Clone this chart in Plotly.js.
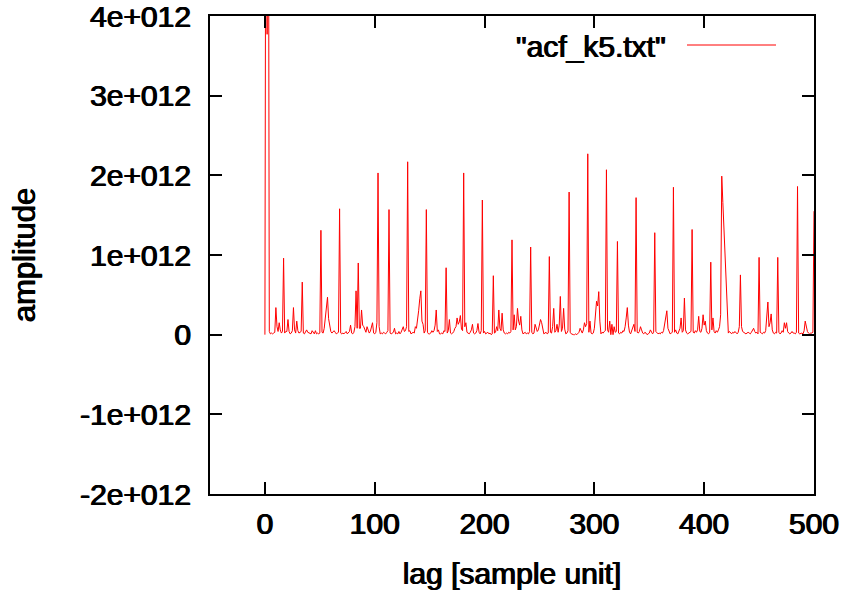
<!DOCTYPE html>
<html>
<head>
<meta charset="utf-8">
<script src="https://cdn.plot.ly/plotly-3.0.1.min.js"></script>
<style>
  html, body { margin: 0; padding: 0; background: #fff; }
  #plot { width: 850px; height: 593px; }
</style>
</head>
<body>
<div id="plot"></div>
<script>
// Autocorrelation of acf_k5.txt, one value per lag (lag 0 .. 500), in units of 1e12
const seriesName = '"acf_k5.txt"';
const firstLag = 0;
const lagStep = 1;
const amplitudeE12 = [
  0.00, 8.00, 3.77, 8.00, 0.04, 0.01, 0.02, 0.01, 0.02, 0.03,
  0.34, 0.10, 0.04, 0.15, 0.06, 0.02, 0.04, 0.96, 0.02, 0.04,
  0.04, 0.19, 0.04, 0.01, 0.02, 0.05, 0.34, 0.06, 0.02, 0.17,
  0.05, 0.02, 0.03, 0.04, 0.66, 0.02, 0.01, 0.03, 0.06, 0.03,
  0.02, 0.01, 0.01, 0.05, 0.02, 0.01, 0.05, 0.01, 0.02, 0.01,
  0.02, 1.31, 0.03, 0.02, 0.08, 0.21, 0.30, 0.47, 0.20, 0.08,
  0.04, 0.02, 0.03, 0.05, 0.03, 0.01, 0.02, 0.03, 1.58, 0.02,
  0.01, 0.02, 0.01, 0.02, 0.04, 0.01, 0.02, 0.04, 0.12, 0.02,
  0.01, 0.03, 0.10, 0.55, 0.08, 0.90, 0.08, 0.08, 0.31, 0.12,
  0.10, 0.06, 0.03, 0.10, 0.04, 0.02, 0.04, 0.09, 0.15, 0.02,
  0.01, 0.03, 0.15, 2.03, 0.10, 0.01, 0.02, 0.01, 0.03, 0.02,
  0.01, 0.03, 0.05, 1.57, 0.02, 0.01, 0.02, 0.03, 0.08, 0.01,
  0.02, 0.01, 0.04, 0.01, 0.03, 0.08, 0.10, 0.04, 0.05, 0.10,
  2.17, 0.04, 0.05, 0.01, 0.02, 0.03, 0.02, 0.10, 0.08, 0.17,
  0.30, 0.45, 0.55, 0.17, 0.13, 0.02, 0.05, 1.57, 0.03, 0.01,
  0.01, 0.02, 0.05, 0.03, 0.05, 0.12, 0.31, 0.04, 0.06, 0.01,
  0.01, 0.02, 0.01, 0.05, 0.04, 0.84, 0.02, 0.05, 0.19, 0.02,
  0.01, 0.02, 0.04, 0.08, 0.10, 0.21, 0.13, 0.16, 0.24, 0.07,
  0.05, 2.03, 0.10, 0.15, 0.03, 0.02, 0.01, 0.03, 0.06, 0.13,
  0.02, 0.01, 0.02, 0.05, 0.14, 0.03, 0.01, 0.05, 1.69, 0.02,
  0.04, 0.01, 0.02, 0.03, 0.01, 0.02, 0.00, 0.01, 0.74, 0.02,
  0.03, 0.10, 0.05, 0.31, 0.08, 0.05, 0.27, 0.06, 0.02, 0.01,
  0.02, 0.01, 0.03, 0.02, 0.04, 1.19, 0.06, 0.25, 0.06, 0.10,
  0.33, 0.17, 0.12, 0.23, 0.06, 0.01, 0.02, 0.03, 0.01, 0.02,
  0.01, 0.04, 1.10, 0.03, 0.01, 0.02, 0.13, 0.08, 0.04, 0.06,
  0.12, 0.19, 0.15, 0.05, 0.01, 0.02, 0.03, 0.01, 0.02, 0.98,
  0.03, 0.02, 0.10, 0.33, 0.03, 0.05, 0.13, 0.03, 0.12, 0.48,
  0.04, 0.08, 0.33, 0.07, 0.01, 0.02, 0.05, 1.79, 0.03, 0.01,
  0.00, 0.00, 0.00, 0.01, 0.00, 0.01, 0.03, 0.08, 0.05, 0.02,
  0.06, 0.15, 0.10, 0.14, 2.27, 0.03, 0.17, 0.02, 0.01, 0.02,
  0.08, 0.25, 0.42, 0.36, 0.54, 0.17, 0.01, 0.03, 0.02, 0.04,
  0.05, 2.07, 0.06, 0.03, 0.17, 0.00, 0.13, 0.00, 0.10, 0.03,
  0.04, 1.17, 0.02, 0.01, 0.03, 0.02, 0.05, 0.04, 0.10, 0.21,
  0.34, 0.12, 0.03, 0.01, 0.05, 0.08, 0.13, 0.04, 1.72, 0.03,
  0.02, 0.04, 0.10, 0.06, 0.02, 0.01, 0.03, 0.02, 0.00, 0.01,
  0.02, 0.06, 0.03, 0.01, 0.03, 1.28, 0.04, 0.02, 0.01, 0.02,
  0.01, 0.03, 0.02, 0.05, 0.13, 0.22, 0.30, 0.08, 0.03, 0.01,
  0.02, 0.03, 1.85, 0.03, 0.06, 0.02, 0.01, 0.04, 0.08, 0.21,
  0.03, 0.05, 0.46, 0.06, 0.02, 0.01, 0.02, 0.03, 0.04, 1.32,
  0.03, 0.02, 0.05, 0.03, 0.06, 0.23, 0.04, 0.03, 0.08, 0.25,
  0.12, 0.17, 0.05, 0.02, 0.01, 0.03, 0.91, 0.06, 0.21, 0.04,
  0.02, 0.05, 0.03, 0.06, 0.10, 0.25, 1.99, 1.66, 1.33, 1.00,
  0.66, 0.33, 0.02, 0.04, 0.02, 0.01, 0.03, 0.02, 0.04, 0.02,
  0.01, 0.03, 0.10, 0.75, 0.10, 0.04, 0.03, 0.02, 0.01, 0.02,
  0.03, 0.02, 0.01, 0.03, 0.05, 0.08, 0.04, 0.02, 0.03, 0.01,
  0.97, 0.03, 0.02, 0.01, 0.03, 0.02, 0.05, 0.22, 0.41, 0.10,
  0.15, 0.26, 0.06, 0.02, 0.01, 0.03, 0.02, 0.97, 0.03, 0.01,
  0.02, 0.05, 0.03, 0.15, 0.08, 0.15, 0.04, 0.02, 0.01, 0.02,
  0.04, 0.02, 0.02, 0.01, 0.03, 1.86, 0.02, 0.01, 0.02, 0.02,
  0.01, 0.05, 0.17, 0.08, 0.04, 0.02, 0.01, 0.02, 0.02, 0.03,
  1.55
];

// Axis ticks
const xTickVals = [0, 100, 200, 300, 400, 500];
const yTickVals = [-2e12, -1e12, 0, 1e12, 2e12, 3e12, 4e12];
const yTickText = ['-2e+012', '-1e+012', '0', '1e+012', '2e+012', '3e+012', '4e+012'];

const amplitude = amplitudeE12.map(v => v * 1e12);

const FONT = 'Liberation Sans, Arial, Helvetica, sans-serif';
// slightly heavier strokes for all text
const HEAVY = '0.6px 0 0 #000, -0.6px 0 0 #000';
const textFont = size => ({ family: FONT, size: size, color: '#000', shadow: HEAVY });

const M = { l: 210, r: 36, t: 16, b: 99 };
const W = 850, H = 593;
const plotW = W - M.l - M.r, plotH = H - M.t - M.b;
const px = x => (x - M.l) / plotW;
const py = y => (H - M.b - y) / plotH;

const trace = {
  type: 'scatter',
  mode: 'lines',
  name: seriesName,
  x0: firstLag,
  dx: lagStep,
  y: amplitude,
  line: { color: '#ff0000', width: 1 },
  hoverinfo: 'skip',
  showlegend: false
};

const axisCommon = {
  showline: true,
  linecolor: '#000',
  linewidth: 2,
  mirror: 'ticks',
  ticks: 'inside',
  ticklen: 12,
  tickwidth: 2,
  tickcolor: '#000',
  showgrid: false,
  zeroline: false,
  automargin: false,
  ticklabeloverflow: 'allow',
  tickfont: textFont(30)
};

const layout = {
  width: W,
  height: H,
  margin: M,
  paper_bgcolor: '#fff',
  plot_bgcolor: '#fff',
  showlegend: false,
  xaxis: Object.assign({}, axisCommon, {
    range: [-50, 500],
    tickmode: 'array',
    tickvals: xTickVals,
    ticklabelstandoff: 2,
    title: { text: 'lag [sample unit]', font: textFont(30), standoff: 24 }
  }),
  yaxis: Object.assign({}, axisCommon, {
    range: [-2e12, 4e12],
    tickmode: 'array',
    tickvals: yTickVals,
    ticktext: yTickText,
    ticklabelstandoff: 11,
    title: { text: 'amplitude', font: textFont(31), standoff: 35 }
  }),
  annotations: [{
    xref: 'paper', yref: 'paper',
    x: px(668), y: py(46),
    xanchor: 'right', yanchor: 'middle',
    text: seriesName,
    showarrow: false,
    font: textFont(30)
  }],
  shapes: [{
    type: 'line', xref: 'paper', yref: 'paper',
    x0: px(687), x1: px(776), y0: py(45), y1: py(45),
    line: { color: '#ff0000', width: 1 }
  }]
};

Plotly.newPlot('plot', [trace], layout, { staticPlot: true, displayModeBar: false });
</script>
</body>
</html>
